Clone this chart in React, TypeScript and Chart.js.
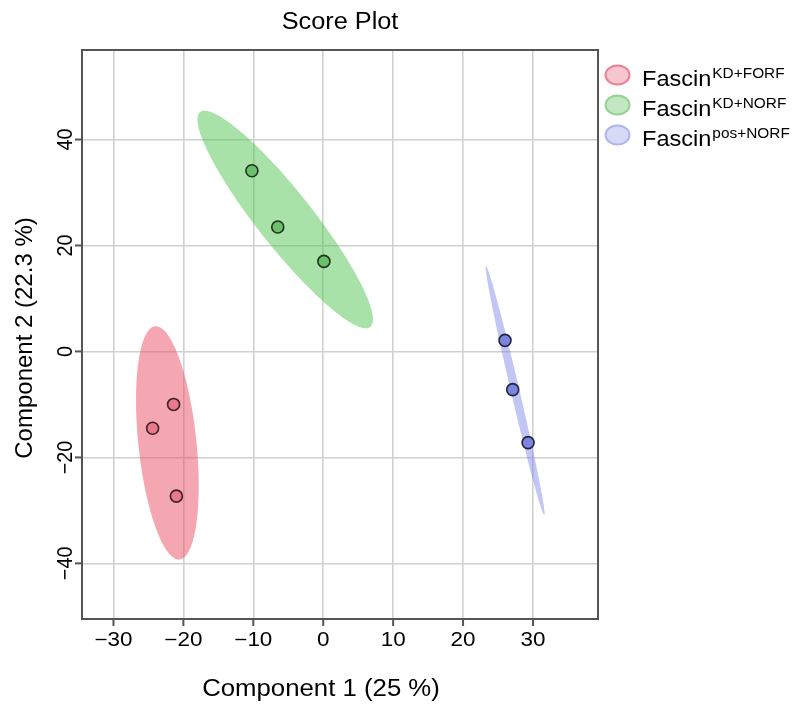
import React, { useEffect, useRef } from "react";
import { Chart, registerables } from "chart.js";

Chart.register(...registerables);

// ---- data ----
const chartTitle = "Score Plot";
const xAxisTitle = "Component 1 (25 %)";
const yAxisTitle = "Component 2 (22.3 %)";
const legendBase = "Fascin";
const groupLabels = ["KD+FORF", "KD+NORF", "pos+NORF"];

const redX = [-24.4, -21.4, -21.0];
const redY = [-14.5, -10.0, -27.3];
const greenX = [-10.2, -6.5, 0.1];
const greenY = [34.1, 23.5, 17.0];
const blueX = [26.0, 27.1, 29.3];
const blueY = [2.1, -7.2, -17.2];

// confidence ellipses: centre, major semi-axis vector, conjugate minor semi-axis vector (data units)
const ellipseCx = [-22.29, -5.44, 27.45];
const ellipseCy = [-17.25, 24.92, -7.4];
const ellipseUx = [1.745, 12.16, 4.17];
const ellipseUy = [-22.02, -20.28, -23.49];
const ellipseVx = [4.13, 3.1, 0.6];
const ellipseVy = [0.57, 3.22, 0.186];

const xMin = -34.5;
const xMax = 39.3;
const yMin = -50.5;
const yMax = 56.9;
const xStep = 10;
const yStep = 20;

// ---- styles ----
const FONT = '"Liberation Sans", Arial, sans-serif';
const ellipseFill = ["rgba(235,79,100,0.5)", "rgba(91,199,91,0.52)", "rgba(120,128,232,0.45)"];
const pointFill = ["#e8788a", "#6cc06c", "#7b85e0"];
const pointBorder = ["#3a2228", "#1e3320", "#23263f"];
const legendFill = ["#f8c6cf", "#c3e6c3", "#d6daf6"];
const legendStroke = ["#ee7f93", "#93d293", "#aeb6ef"];

function fmt(v: number) {
  return v < 0 ? "\u2212" + Math.abs(v) : String(v);
}

function drawText(
  ctx: CanvasRenderingContext2D,
  text: string,
  x: number,
  y: number,
  size: number,
  align: CanvasTextAlign,
  sx = 1,
  rot = 0
) {
  ctx.save();
  ctx.translate(x, y);
  if (rot) ctx.rotate(rot);
  ctx.scale(sx, 1);
  ctx.font = `${size}px ${FONT}`;
  ctx.textAlign = align;
  ctx.textBaseline = "alphabetic";
  ctx.fillStyle = "#000";
  ctx.fillText(text, 0, 0);
  ctx.restore();
}

const overlayPlugin = {
  id: "overlay",
  beforeDatasetsDraw(chart: any) {
    const { ctx, chartArea } = chart;
    const xs = chart.scales.x;
    const ys = chart.scales.y;
    ctx.save();
    ctx.beginPath();
    ctx.rect(chartArea.left, chartArea.top, chartArea.right - chartArea.left, chartArea.bottom - chartArea.top);
    ctx.clip();
    for (let i = 0; i < ellipseCx.length; i++) {
      ctx.beginPath();
      const N = 160;
      for (let k = 0; k <= N; k++) {
        const t = (2 * Math.PI * k) / N;
        const dx = ellipseCx[i] + ellipseUx[i] * Math.cos(t) + ellipseVx[i] * Math.sin(t);
        const dy = ellipseCy[i] + ellipseUy[i] * Math.cos(t) + ellipseVy[i] * Math.sin(t);
        const px = xs.getPixelForValue(dx);
        const py = ys.getPixelForValue(dy);
        if (k === 0) ctx.moveTo(px, py);
        else ctx.lineTo(px, py);
      }
      ctx.closePath();
      ctx.fillStyle = ellipseFill[i];
      ctx.fill();
    }
    ctx.restore();
  },
  afterDraw(chart: any) {
    const { ctx, chartArea } = chart;
    const xs = chart.scales.x;
    const ys = chart.scales.y;
    const { left, right, top, bottom } = chartArea;
    ctx.save();
    // box
    ctx.strokeStyle = "#555";
    ctx.lineWidth = 2;
    ctx.strokeRect(left, top, right - left, bottom - top);
    // ticks
    xs.ticks.forEach((t: any) => {
      const px = xs.getPixelForValue(t.value);
      ctx.beginPath();
      ctx.moveTo(px, bottom);
      ctx.lineTo(px, bottom + 7);
      ctx.stroke();
      drawText(ctx, fmt(t.value), px, bottom + 27, 19.5, "center", 1.15);
    });
    ys.ticks.forEach((t: any) => {
      const py = ys.getPixelForValue(t.value);
      ctx.beginPath();
      ctx.moveTo(left, py);
      ctx.lineTo(left - 7, py);
      ctx.stroke();
      drawText(ctx, fmt(t.value), left - 10, py, 21.5, "center", 0.92, -Math.PI / 2);
    });
    // titles
    drawText(ctx, chartTitle, (left + right) / 2, 29, 23, "center", 1.1);
    drawText(ctx, xAxisTitle, 321, 696, 23, "center", 1.12);
    drawText(ctx, yAxisTitle, 32, 338, 24, "center", 1.0, -Math.PI / 2);
    // legend
    for (let i = 0; i < groupLabels.length; i++) {
      const cy = 75 + i * 30;
      ctx.beginPath();
      ctx.ellipse(617.5, cy, 12, 9.5, 0, 0, Math.PI * 2);
      ctx.fillStyle = legendFill[i];
      ctx.fill();
      ctx.lineWidth = 2;
      ctx.strokeStyle = legendStroke[i];
      ctx.stroke();
      const bx = 642;
      const by = cy + 11;
      drawText(ctx, legendBase, bx, by, 22, "left", 1.07);
      ctx.font = `22px ${FONT}`;
      const w = ctx.measureText(legendBase).width * 1.07;
      drawText(ctx, groupLabels[i], bx + w + 1, by - 8, 14, "left", 1.1);
    }
    ctx.restore();
  },
};

export default function App() {
  const ref = useRef<HTMLCanvasElement | null>(null);
  useEffect(() => {
    if (!ref.current) return;
    const mk = (xsArr: number[], ysArr: number[]) => xsArr.map((v, i) => ({ x: v, y: ysArr[i] }));
    const chart = new Chart(ref.current, {
      type: "scatter",
      data: {
        datasets: [
          { label: legendBase + groupLabels[0], data: mk(redX, redY), backgroundColor: pointFill[0], borderColor: pointBorder[0] },
          { label: legendBase + groupLabels[1], data: mk(greenX, greenY), backgroundColor: pointFill[1], borderColor: pointBorder[1] },
          { label: legendBase + groupLabels[2], data: mk(blueX, blueY), backgroundColor: pointFill[2], borderColor: pointBorder[2] },
        ],
      },
      options: {
        responsive: false,
        animation: false,
        devicePixelRatio: 1,
        layout: { padding: { left: 82, top: 50, right: 194, bottom: 85 } },
        elements: { point: { radius: 6, borderWidth: 1.6, hoverRadius: 6 } },
        plugins: { legend: { display: false }, title: { display: false }, tooltip: { enabled: false } },
        scales: {
          x: {
            type: "linear",
            min: xMin,
            max: xMax,
            ticks: { display: false, stepSize: xStep, includeBounds: false },
            grid: { color: "#d0d0d0", lineWidth: 1.6, drawTicks: false },
            border: { display: false },
          },
          y: {
            type: "linear",
            min: yMin,
            max: yMax,
            ticks: { display: false, stepSize: yStep, includeBounds: false },
            grid: { color: "#d0d0d0", lineWidth: 1.6, drawTicks: false },
            border: { display: false },
          },
        },
      },
      plugins: [overlayPlugin],
    } as any);
    return () => chart.destroy();
  }, []);
  return (
    <div style={{ position: "fixed", left: 0, top: 0, width: 792, height: 704, background: "#fff" }}>
      <canvas ref={ref} width={792} height={704} style={{ width: 792, height: 704, display: "block" }} />
    </div>
  );
}
